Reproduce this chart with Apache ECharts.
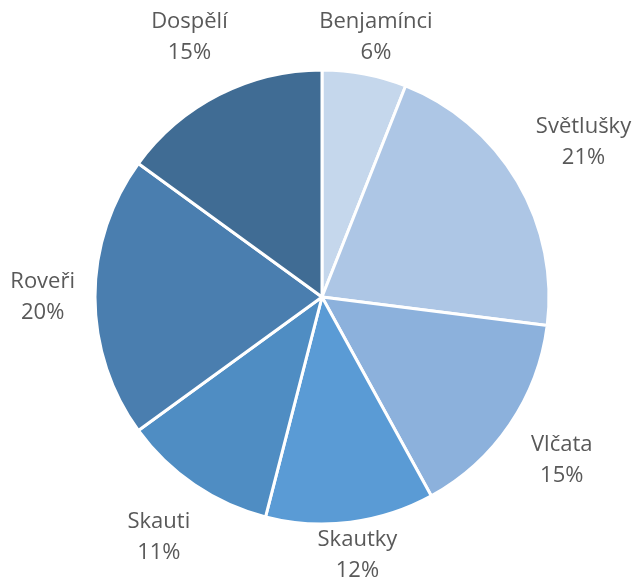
<!DOCTYPE html>
<html>
<head>
<meta charset="utf-8">
<script src="https://cdn.jsdelivr.net/npm/echarts@6/dist/echarts.min.js"></script>
<style>
  html, body { margin: 0; padding: 0; background: #fff; }
  #chart { width: 642px; height: 583px; }
</style>
</head>
<body>
<div id="chart"></div>
<script>
// kategorie a podíly (%)
var categories = ['Benjamínci', 'Světlušky', 'Vlčata', 'Skautky', 'Skauti', 'Roveři', 'Dospělí'];
var shares = [6, 21, 15, 12, 11, 20, 15];
var colors = ['#c5d7ec', '#adc6e5', '#8cb1dc', '#5a9bd5', '#4f8dc3', '#4a7eaf', '#406c94'];

var CX = 322, CY = 297, R = 227;
var W = 642, H = 583;

var myChart = echarts.init(document.getElementById('chart'));

var total = shares.reduce(function (a, b) { return a + b; }, 0);

// popisky kolem koláče, podle středního úhlu výseče
function placeLabel(params) {
  var before = 0;
  for (var i = 0; i < params.dataIndex; i++) before += shares[i];
  var mid = (before + shares[params.dataIndex] / 2) / total * Math.PI * 2;
  var s = Math.sin(mid), c = Math.cos(mid);
  var w = params.labelRect.width, h = params.labelRect.height;
  var d = R + 20 + Math.abs(s) * w / 2 + Math.abs(c) * h / 2;
  var x = CX + s * d;
  var y = CY - c * d;
  // udržet uvnitř plochy
  y = Math.max(y, h / 2 + 6);
  y = Math.min(y, H - h / 2 + 3);
  x = Math.min(x, W - w / 2 - 2);
  // když popisek zasahuje do koláče, posunout ho do strany
  var pad = 5, dir = s < 0 ? -1 : 1;
  for (var k = 0; k < 200; k++) {
    var px = Math.min(Math.max(CX, x - w / 2), x + w / 2);
    var py = Math.min(Math.max(CY, y - h / 2 + pad), y + h / 2 - pad);
    if (Math.hypot(px - CX, py - CY) >= R + 4) break;
    x += dir;
  }
  return { x: x, y: y, align: 'center', verticalAlign: 'middle' };
}

var option = {
  backgroundColor: '#ffffff',
  animation: false,
  series: [{
    type: 'pie',
    center: [CX, CY],
    radius: [0, R],
    startAngle: 90,
    clockwise: true,
    avoidLabelOverlap: false,
    itemStyle: { borderColor: '#ffffff', borderWidth: 3 },
    label: {
      show: true,
      position: 'outside',
      formatter: function (p) { return p.name + '\n' + p.value + '%'; },
      color: '#595959',
      fontFamily: 'Open Sans',
      fontSize: 22,
      lineHeight: 31,
      align: 'center'
    },
    labelLine: { show: false },
    labelLayout: placeLabel,
    emphasis: { disabled: true },
    data: categories.map(function (n, i) {
      return { name: n, value: shares[i], itemStyle: { color: colors[i] } };
    })
  }]
};

myChart.setOption(option);
</script>
</body>
</html>
